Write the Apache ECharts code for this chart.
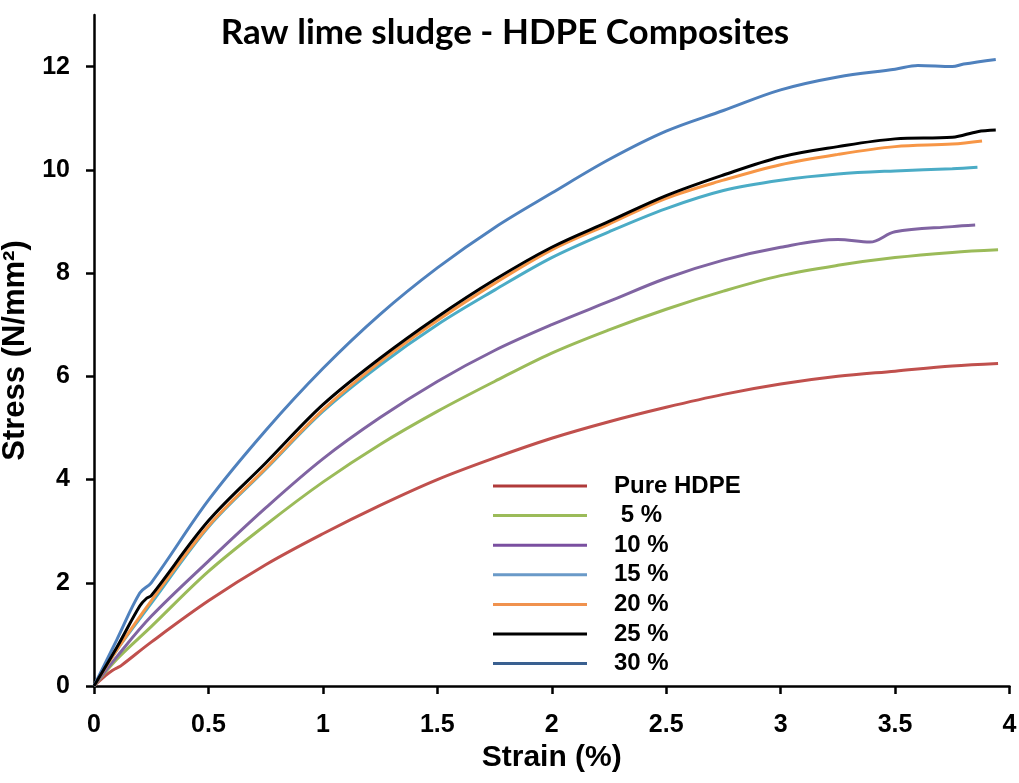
<!DOCTYPE html>
<html><head><meta charset="utf-8">
<script src="https://cdn.jsdelivr.net/npm/echarts@6/dist/echarts.min.js"></script>
<style>html,body{margin:0;padding:0;background:#fff}#c{width:1019px;height:783px}</style>
</head><body><div id="c"></div>
<script>
const seriesNames = ['Pure HDPE', ' 5 %', '10 %', '15 %', '20 %', '25 %', '30 %'];
const colors = ['#C0504D', '#9BBB59', '#8064A2', '#4BACC6', '#F79646', '#000000', '#4F81BD'];
const legendColors = ['#B03A3A', '#9BBB59', '#7A4FA0', '#6A9AC8', '#F0924E', '#000000', '#3A6090'];
const xTicks = [0, 0.5, 1, 1.5, 2, 2.5, 3, 3.5, 4];
const yTicks = [0, 2, 4, 6, 8, 10, 12];

const pureHDPE = [[0,0],[0.05,0.2],[0.08,0.3],[0.1,0.35],[0.12,0.4],[0.25,0.85],[0.5,1.65],[0.75,2.35],[1,2.95],[1.25,3.5],[1.5,4.0],[1.75,4.42],[2,4.8],[2.25,5.12],[2.5,5.4],[2.75,5.65],[3,5.85],[3.25,6.0],[3.5,6.1],[3.75,6.2],[3.95,6.25]];
const pct5 = [[0,0],[0.1,0.52],[0.25,1.15],[0.5,2.22],[0.75,3.12],[1,3.95],[1.25,4.68],[1.5,5.32],[1.75,5.9],[2,6.45],[2.25,6.9],[2.5,7.3],[2.75,7.65],[3,7.95],[3.25,8.15],[3.5,8.3],[3.75,8.4],[3.95,8.45]];
const pct10 = [[0,0],[0.1,0.57],[0.25,1.35],[0.5,2.42],[0.75,3.45],[1,4.4],[1.25,5.2],[1.5,5.9],[1.75,6.5],[2,7.0],[2.25,7.45],[2.5,7.9],[2.75,8.25],[3,8.5],[3.25,8.65],[3.39,8.6],[3.5,8.8],[3.75,8.9],[3.85,8.93]];
const pct15 = [[0,0],[0.1,0.7],[0.25,1.6],[0.5,3.08],[0.75,4.2],[1,5.32],[1.25,6.22],[1.5,7.0],[1.75,7.67],[2,8.3],[2.25,8.8],[2.5,9.25],[2.75,9.6],[3,9.8],[3.25,9.92],[3.5,9.98],[3.75,10.02],[3.86,10.05]];
const pct20 = [[0,0],[0.1,0.7],[0.25,1.65],[0.5,3.1],[0.75,4.22],[1,5.35],[1.25,6.28],[1.5,7.08],[1.75,7.8],[2,8.45],[2.25,8.95],[2.5,9.45],[2.75,9.8],[3,10.1],[3.25,10.3],[3.5,10.45],[3.75,10.5],[3.88,10.56]];
const pct25 = [[0,0],[0.1,0.75],[0.2,1.55],[0.23,1.7],[0.25,1.75],[0.5,3.2],[0.75,4.32],[1,5.45],[1.25,6.35],[1.5,7.15],[1.75,7.87],[2,8.5],[2.25,9.0],[2.5,9.5],[2.75,9.9],[3,10.25],[3.25,10.45],[3.5,10.6],[3.75,10.63],[3.86,10.74],[3.94,10.77]];
const pct30 = [[0,0],[0.1,0.9],[0.2,1.8],[0.25,2.0],[0.5,3.6],[0.75,4.95],[1,6.15],[1.25,7.2],[1.5,8.1],[1.75,8.88],[2,9.55],[2.25,10.2],[2.5,10.75],[2.75,11.15],[3,11.55],[3.25,11.8],[3.5,11.95],[3.6,12.02],[3.75,12.0],[3.8,12.05],[3.94,12.14]];

const allData = [pureHDPE, pct5, pct10, pct15, pct20, pct25, pct30];

const chart = echarts.init(document.getElementById('c'), null, {renderer: 'canvas'});
const tickFont = {fontFamily: 'Liberation Sans, Arial', fontWeight: 'bold', fontSize: 25, color: '#000'};
chart.setOption({
  animation: false,
  backgroundColor: '#fff',
  title: {
    text: 'Raw lime sludge - HDPE Composites',
    left: 500, top: 10, textAlign: 'center',
    textStyle: {fontFamily: 'Lato, Open Sans', fontWeight: 'bold', fontSize: 35, color: '#000'}
  },
  grid: {left: 94, right: 9.5, top: 15, bottom: 97, containLabel: false, outerBoundsMode: 'none'},
  legend: {
    orient: 'vertical', left: 493, top: 474, padding: 0,
    icon: 'rect', itemWidth: 94, itemHeight: 3, itemGap: 5.6,
    data: seriesNames.map((n, i) => ({name: n, itemStyle: {color: legendColors[i]}})),
    textStyle: {fontFamily: 'Liberation Sans, Arial', fontWeight: 'bold', fontSize: 24, color: '#000', padding: [0, 0, 0, 22]}
  },
  xAxis: {
    type: 'value', min: 0, max: 4, interval: 0.5,
    name: 'Strain (%)', nameLocation: 'middle', nameGap: 36,
    nameTextStyle: {fontFamily: 'Liberation Sans, Arial', fontWeight: 'bold', fontSize: 30, color: '#000'},
    axisLine: {show: true, onZero: false, lineStyle: {color: '#000', width: 2.5}},
    axisTick: {show: true, inside: false, length: 8, lineStyle: {color: '#000', width: 2.5}, customValues: xTicks},
    axisLabel: Object.assign({margin: 27, customValues: xTicks, formatter: v => String(v)}, tickFont),
    splitLine: {show: false}
  },
  yAxis: {
    type: 'value', min: 0, max: 13, interval: 2,
    name: 'Stress (N/mm²)', nameLocation: 'middle', nameGap: 52,
    nameTextStyle: {fontFamily: 'Liberation Sans, Arial', fontWeight: 'bold', fontSize: 31, color: '#000'},
    axisLine: {show: true, onZero: false, lineStyle: {color: '#000', width: 2.5}},
    axisTick: {show: true, inside: false, length: 8, lineStyle: {color: '#000', width: 2.5}, customValues: yTicks},
    axisLabel: Object.assign({margin: 24, customValues: yTicks}, tickFont),
    splitLine: {show: false}
  },
  series: allData.map((d, i) => ({
    name: seriesNames[i], type: 'line', data: d,
    symbol: 'none', showSymbol: false,
    smooth: 0.35,
    lineStyle: {color: colors[i], width: 3},
    itemStyle: {color: colors[i]},
    z: i === 5 ? 3 : 2
  }))
});
</script></body></html>
